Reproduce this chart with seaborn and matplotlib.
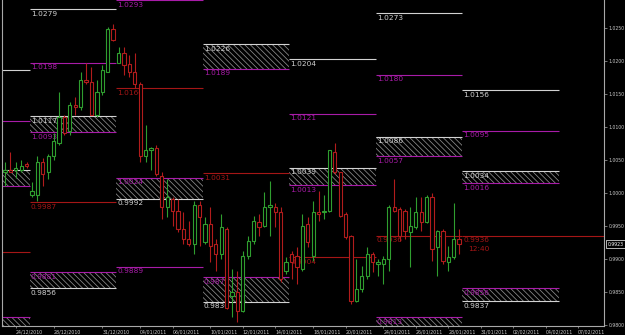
import numpy as np
import matplotlib
matplotlib.use("Agg")
import matplotlib.pyplot as plt
from matplotlib.patches import Rectangle
from matplotlib.ticker import FormatStrFormatter
import seaborn as sns

# ---------------- data (H8 candles) ----------------
opens = [1.0032, 1.0036, 1.0035, 1.0036, 1.0044, 0.9998, 0.9998, 1.0048, 1.0032, 1.0056,
         1.0077, 1.0115, 1.0094, 1.0134, 1.0131, 1.0172, 1.0168, 1.0119, 1.0154, 1.0184,
         1.0249, 1.0198, 1.0213, 1.0196, 1.0184, 1.0165, 1.0056, 1.0066, 1.0069, 1.0027,
         0.9979, 0.9991, 0.9973, 0.9946, 0.9931, 0.9923, 0.9983, 0.9926, 0.9953, 0.9923,
         0.9908, 0.9946, 0.9844, 0.9851, 0.9822, 0.9905, 0.9928, 0.9956, 0.9950, 0.9979,
         0.9979, 0.9971, 0.9882, 0.9908, 0.9905, 0.9885, 0.9953, 0.9905, 0.9971, 0.9971,
         0.9973, 1.0062, 1.0032, 0.9968, 0.9935, 0.9837, 0.9855, 0.9875, 0.9908, 0.9893,
         0.9893, 0.9900, 0.9980, 0.9976, 0.9973, 0.9941, 0.9949, 0.9971, 0.9956, 0.9994,
         0.9918, 0.9943, 0.9896, 0.9903, 0.9931]
highs = [1.0048, 1.0063, 1.0047, 1.0050, 1.0048, 1.0017, 1.0056, 1.0054, 1.0059, 1.0092,
         1.0153, 1.0119, 1.0139, 1.0146, 1.0184, 1.0198, 1.0192, 1.0172, 1.0195, 1.0252,
         1.0257, 1.0222, 1.0222, 1.0210, 1.0213, 1.0169, 1.0104, 1.0071, 1.0074, 1.0032,
         1.0021, 0.9995, 0.9991, 0.9971, 0.9958, 0.9988, 0.9988, 0.9964, 0.9980, 0.9931,
         0.9968, 0.9949, 0.9885, 0.9882, 0.9912, 0.9935, 0.9965, 0.9968, 1.0002, 1.0018,
         0.9986, 0.9979, 0.9903, 0.9912, 0.9918, 0.9968, 0.9964, 0.9988, 1.0003, 0.9998,
         1.0066, 1.0077, 1.0033, 0.9971, 0.9937, 0.9900, 0.9890, 0.9918, 0.9911, 0.9900,
         0.9905, 0.9983, 1.0021, 0.9980, 0.9977, 0.9980, 0.9995, 0.9995, 0.9997, 1.0000,
         0.9944, 0.9946, 0.9920, 0.9985, 0.9946]
lows = [1.0011, 1.0032, 1.0024, 1.0032, 1.0039, 0.9994, 0.9988, 1.0011, 1.0021, 1.0051,
        1.0074, 1.0089, 1.0089, 1.0119, 1.0127, 1.0165, 1.0118, 1.0116, 1.0149, 1.0184,
        1.0231, 1.0198, 1.0180, 1.0177, 1.0160, 1.0047, 1.0047, 1.0036, 1.0026, 0.9961,
        0.9964, 0.9950, 0.9941, 0.9923, 0.9920, 0.9908, 0.9920, 0.9923, 0.9896, 0.9882,
        0.9900, 0.9825, 0.9813, 0.9805, 0.9820, 0.9900, 0.9923, 0.9935, 0.9949, 0.9935,
        0.9949, 0.9866, 0.9878, 0.9870, 0.9863, 0.9882, 0.9918, 0.9897, 0.9958, 0.9961,
        0.9971, 1.0029, 0.9964, 0.9931, 0.9832, 0.9835, 0.9851, 0.9870, 0.9881, 0.9875,
        0.9863, 0.9882, 0.9971, 0.9928, 0.9931, 0.9888, 0.9946, 0.9943, 0.9955, 0.9897,
        0.9875, 0.9893, 0.9882, 0.9900, 0.9908]
closes = [1.0036, 1.0033, 1.0039, 1.0042, 1.0042, 1.0003, 1.0048, 1.0029, 1.0056, 1.0079,
          1.0115, 1.0092, 1.0134, 1.0131, 1.0172, 1.0168, 1.0119, 1.0154, 1.0187, 1.0249,
          1.0233, 1.0213, 1.0195, 1.0184, 1.0165, 1.0056, 1.0066, 1.0069, 1.0029, 0.9979,
          0.9994, 0.9973, 0.9946, 0.9931, 0.9923, 0.9983, 0.9964, 0.9953, 0.9920, 0.9908,
          0.9949, 0.9827, 0.9851, 0.9822, 0.9905, 0.9928, 0.9958, 0.9949, 0.9979, 0.9982,
          0.9971, 0.9870, 0.9896, 0.9896, 0.9888, 0.9950, 0.9926, 0.9971, 0.9968, 0.9974,
          1.0065, 1.0032, 0.9965, 0.9934, 0.9837, 0.9855, 0.9875, 0.9908, 0.9896, 0.9896,
          0.9900, 0.9980, 0.9973, 0.9935, 0.9943, 0.9950, 0.9971, 0.9956, 0.9994, 0.9915,
          0.9943, 0.9897, 0.9903, 0.9931, 0.9923]

tick_labels = ["24/12/2010", "28/12/2010", "31/12/2010", "04/01/2011", "06/01/2011",
               "10/01/2011", "12/01/2011", "14/01/2011", "18/01/2011", "20/01/2011",
               "24/01/2011", "26/01/2011", "28/01/2011", "31/01/2011", "02/02/2011",
               "04/02/2011", "07/02/2011"]
tick_bars = [2, 9, 18, 25, 31, 38, 44, 50, 57, 63, 70, 76, 82, 88, 94, 100, 106]

# weekly blocks (in bar units)
week_starts = [-11.45, 4.55, 20.55, 36.55, 52.55, 68.55, 84.55]
week_ends = [4.55, 20.55, 36.55, 52.55, 68.55, 84.55, 102.5]

# single level lines
level_week = [0, 0, 0, 1, 1, 1, 2, 2, 2, 3, 4, 4, 4, 5, 5, 5, 6, 6]
level_price = [1.0187, 1.0110, 0.9911, 1.0279, 1.0198, 0.9987, 1.0293, 1.0160, 0.9889,
               1.0031, 1.0204, 1.0121, 0.9904, 1.0273, 1.0180, 0.9936, 1.0156, 1.0095]
level_kind = ["w", "m", "r", "w", "m", "r", "m", "r", "m",
              "r", "w", "m", "r", "w", "m", "r", "w", "m"]

# hatched zones
zone_week = [0, 0, 1, 1, 2, 3, 3, 4, 5, 5, 6, 6]
zone_top = [1.0035, 0.9813, 1.0117, 0.9881, 1.0024, 1.0226, 0.9873, 1.0039, 1.0086, 0.9813, 1.0034, 0.9856]
zone_bottom = [1.0011, 0.9788, 1.0093, 0.9856, 0.9992, 1.0189, 0.9836, 1.0013, 1.0057, 0.9788, 1.0016, 0.9837]
zone_top_kind = ["w", "m", "w", "m", "m", "w", "m", "w", "w", "m", "w", "m"]
zone_bottom_kind = ["m", "w", "m", "w", "w", "m", "w", "m", "m", "w", "m", "w"]

open_level = 0.9936
timer_text = "12:40"

# ---------------- styling ----------------
sns.set_theme(style="dark", rc={"axes.facecolor": "black", "figure.facecolor": "black",
                                "hatch.linewidth": 0.55})
plt.rcParams["font.family"] = ["DejaVu Sans"]

COL = {"w": "#d2d2d2", "m": "#a81ca8", "r": "#a51616"}
GREEN = "#2f9e2f"
RED = "#b21c1c"
AXC = "#a8a8a8"
LFS = 5.3

fig = plt.figure(figsize=(6.25, 3.35), dpi=100)
ax = fig.add_axes([2 / 625, 9 / 335, 602 / 625, 326 / 335])
ax.set_facecolor("black")

XMAX = 110.8
ax.set_xlim(-0.55, XMAX)
ax.set_ylim(0.9799, 1.0293)


def draw_level(w, price, kind, x1=None):
    x0 = week_starts[w]
    x1 = week_ends[w] if x1 is None else x1
    ax.hlines(price, x0, x1, color=COL[kind], lw=0.8, zorder=2)
    ax.annotate(f"{price:.4f}", xy=(x0, price), xytext=(1.0, -1.3), textcoords="offset points",
                ha="left", va="top", fontsize=LFS, color=COL[kind], zorder=2)


for w, top, bot, tk, bk in zip(zone_week, zone_top, zone_bottom, zone_top_kind, zone_bottom_kind):
    x0, x1 = week_starts[w], week_ends[w]
    ax.add_patch(Rectangle((x0, bot), x1 - x0, top - bot, facecolor="black",
                           edgecolor="#8c8c8c", hatch="\\\\\\\\\\\\", linewidth=0, zorder=1))
    draw_level(w, top, tk)
    draw_level(w, bot, bk)

for w, p, k in zip(level_week, level_price, level_kind):
    draw_level(w, p, k)

# open pivot line running to the right edge
ax.hlines(open_level, week_starts[-1], XMAX, color=COL["r"], lw=0.8, zorder=2)
ax.annotate(f"{open_level:.4f}", xy=(week_starts[-1], open_level), xytext=(1.0, -1.3),
            textcoords="offset points", ha="left", va="top", fontsize=LFS, color=COL["r"], zorder=2)
ax.annotate(timer_text, xy=(week_starts[-1], open_level), xytext=(4.5, -7.6),
            textcoords="offset points", ha="left", va="top", fontsize=LFS, color=COL["r"], zorder=2)

# candles
o = np.array(opens); h = np.array(highs); l = np.array(lows); c = np.array(closes)
x = np.arange(len(o))
cols = np.where(c >= o, GREEN, RED)
ax.vlines(x, l, h, colors=cols, lw=0.8, zorder=4)
body_h = np.maximum(np.abs(c - o), 0.00004)
ax.bar(x, body_h, bottom=np.minimum(o, c), width=0.6, facecolor="black",
       edgecolor=cols, linewidth=0.8, zorder=5)

# axes
ax.yaxis.tick_right()
ax.set_yticks(np.round(np.arange(0.98, 1.02501, 0.005), 4))
ax.yaxis.set_major_formatter(FormatStrFormatter("%.4f"))
ax.tick_params(axis="y", colors=AXC, labelsize=3.3, length=2, width=0.5, pad=1.5,
               direction="out", right=True, left=False, labelcolor="#c8c8c8")
ax.set_xticks(tick_bars)
ax.set_xticklabels(tick_labels, ha="left")
ax.tick_params(axis="x", colors=AXC, labelsize=3.4, length=1.5, width=0.5, pad=1.2,
               direction="out", bottom=True, labelcolor="#c8c8c8")
ax.grid(False)
for side in ["left", "right", "bottom"]:
    ax.spines[side].set_visible(True)
    ax.spines[side].set_color(AXC)
    ax.spines[side].set_linewidth(0.8)
ax.spines["top"].set_visible(False)

# current price box
ax.annotate(f"{closes[-1]:.4f}", xy=(1, closes[-1]), xycoords=("axes fraction", "data"),
            xytext=(2.5, 0), textcoords="offset points", ha="left", va="center",
            fontsize=3.3, color="white",
            bbox=dict(boxstyle="square,pad=0.3", fc="black", ec="white", lw=0.5),
            annotation_clip=False)

fig.savefig("out.png", dpi=100, facecolor="black")
